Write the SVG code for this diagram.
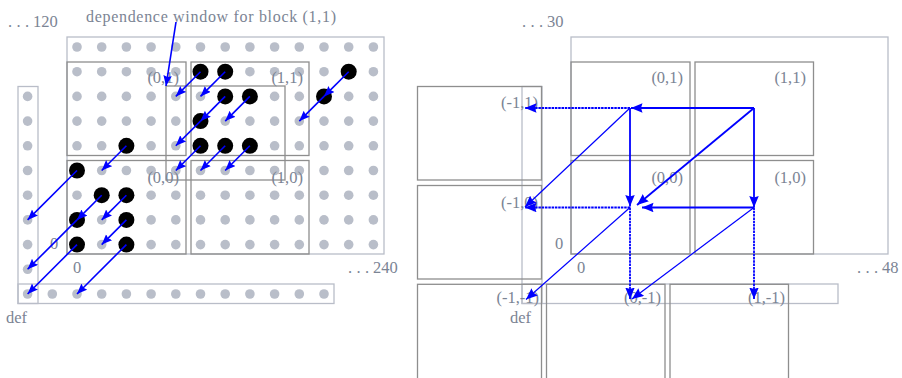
<svg xmlns="http://www.w3.org/2000/svg" width="902" height="378" viewBox="0 0 902 378">
<style>
.g{fill:#b9bec9}
.b{fill:#000}
.lr{fill:none;stroke:#b9bdc8;stroke-width:1.3}
.dr{fill:none;stroke:#8e8e8e;stroke-width:1.3}
.t{font-family:"Liberation Serif","Times New Roman",serif;font-size:16.5px;fill:#7b8494}
.a{stroke:#0000ff;stroke-width:1.6;fill:none;marker-end:url(#ah)}
.s{stroke:#0000ff;stroke-width:1.8;fill:none;marker-end:url(#ah2)}
.th{stroke:#0000ff;stroke-width:1.2;fill:none;marker-end:url(#ah2)}
.dt{stroke:#0000ff;stroke-width:1.8;fill:none;stroke-dasharray:2.5 0.8;marker-end:url(#ah2)}
</style>
<defs>
<marker id="ah" markerUnits="userSpaceOnUse" markerWidth="12" markerHeight="10" refX="10.5" refY="4.25" orient="auto"><path d="M0,0 L10.5,4.25 L0,8.5 L1.5,4.25 z" fill="#0000ff"/></marker>
<marker id="ah2" markerUnits="userSpaceOnUse" markerWidth="13" markerHeight="10" refX="11.5" refY="4.75" orient="auto"><path d="M0,0 L11.5,4.75 L0,9.5 L1.5,4.75 z" fill="#0000ff"/></marker>
</defs>

<!-- LEFT DIAGRAM -->
<g id="left-regions">
<rect class="lr" x="67" y="37" width="317" height="217"/>
<rect class="lr" x="18" y="86.5" width="20" height="217"/>
<rect class="lr" x="18" y="284" width="316" height="19.5"/>
</g>
<g id="left-blocks">
<rect id="L01" class="dr" x="67" y="62" width="119" height="93.5"/>
<rect id="L11" class="dr" x="191" y="62" width="118" height="93.5"/>
<rect id="L00" class="dr" x="67" y="160.5" width="119" height="93.5"/>
<rect id="L10" class="dr" x="191" y="160.5" width="118" height="93.5"/>
<rect id="Lwin" class="dr" x="166" y="86" width="119" height="94"/>
</g>
<g id="left-dots">
<g class="g">
<circle cx="77" cy="47" r="4.8"/><circle cx="101.7" cy="47" r="4.8"/><circle cx="126.4" cy="47" r="4.8"/><circle cx="151.1" cy="47" r="4.8"/><circle cx="175.8" cy="47" r="4.8"/><circle cx="200.5" cy="47" r="4.8"/><circle cx="225.2" cy="47" r="4.8"/><circle cx="249.9" cy="47" r="4.8"/><circle cx="274.6" cy="47" r="4.8"/><circle cx="299.3" cy="47" r="4.8"/><circle cx="324" cy="47" r="4.8"/><circle cx="348.7" cy="47" r="4.8"/><circle cx="373.4" cy="47" r="4.8"/>
<circle cx="77" cy="71.7" r="4.8"/><circle cx="101.7" cy="71.7" r="4.8"/><circle cx="126.4" cy="71.7" r="4.8"/><circle cx="151.1" cy="71.7" r="4.8"/><circle cx="175.8" cy="71.7" r="4.8"/><circle cx="249.9" cy="71.7" r="4.8"/><circle cx="274.6" cy="71.7" r="4.8"/><circle cx="299.3" cy="71.7" r="4.8"/><circle cx="324" cy="71.7" r="4.8"/><circle cx="373.4" cy="71.7" r="4.8"/>
<circle cx="77" cy="96.4" r="4.8"/><circle cx="101.7" cy="96.4" r="4.8"/><circle cx="126.4" cy="96.4" r="4.8"/><circle cx="151.1" cy="96.4" r="4.8"/><circle cx="175.8" cy="96.4" r="4.8"/><circle cx="200.5" cy="96.4" r="4.8"/><circle cx="274.6" cy="96.4" r="4.8"/><circle cx="299.3" cy="96.4" r="4.8"/><circle cx="348.7" cy="96.4" r="4.8"/><circle cx="373.4" cy="96.4" r="4.8"/>
<circle cx="77" cy="121.1" r="4.8"/><circle cx="101.7" cy="121.1" r="4.8"/><circle cx="126.4" cy="121.1" r="4.8"/><circle cx="151.1" cy="121.1" r="4.8"/><circle cx="175.8" cy="121.1" r="4.8"/><circle cx="225.2" cy="121.1" r="4.8"/><circle cx="249.9" cy="121.1" r="4.8"/><circle cx="274.6" cy="121.1" r="4.8"/><circle cx="299.3" cy="121.1" r="4.8"/><circle cx="324" cy="121.1" r="4.8"/><circle cx="348.7" cy="121.1" r="4.8"/><circle cx="373.4" cy="121.1" r="4.8"/>
<circle cx="77" cy="145.8" r="4.8"/><circle cx="101.7" cy="145.8" r="4.8"/><circle cx="151.1" cy="145.8" r="4.8"/><circle cx="175.8" cy="145.8" r="4.8"/><circle cx="274.6" cy="145.8" r="4.8"/><circle cx="299.3" cy="145.8" r="4.8"/><circle cx="324" cy="145.8" r="4.8"/><circle cx="348.7" cy="145.8" r="4.8"/><circle cx="373.4" cy="145.8" r="4.8"/>
<circle cx="101.7" cy="170.5" r="4.8"/><circle cx="126.4" cy="170.5" r="4.8"/><circle cx="151.1" cy="170.5" r="4.8"/><circle cx="175.8" cy="170.5" r="4.8"/><circle cx="200.5" cy="170.5" r="4.8"/><circle cx="225.2" cy="170.5" r="4.8"/><circle cx="249.9" cy="170.5" r="4.8"/><circle cx="274.6" cy="170.5" r="4.8"/><circle cx="299.3" cy="170.5" r="4.8"/><circle cx="324" cy="170.5" r="4.8"/><circle cx="348.7" cy="170.5" r="4.8"/><circle cx="373.4" cy="170.5" r="4.8"/>
<circle cx="77" cy="195.2" r="4.8"/><circle cx="151.1" cy="195.2" r="4.8"/><circle cx="175.8" cy="195.2" r="4.8"/><circle cx="200.5" cy="195.2" r="4.8"/><circle cx="225.2" cy="195.2" r="4.8"/><circle cx="249.9" cy="195.2" r="4.8"/><circle cx="274.6" cy="195.2" r="4.8"/><circle cx="299.3" cy="195.2" r="4.8"/><circle cx="324" cy="195.2" r="4.8"/><circle cx="348.7" cy="195.2" r="4.8"/><circle cx="373.4" cy="195.2" r="4.8"/>
<circle cx="101.7" cy="219.9" r="4.8"/><circle cx="151.1" cy="219.9" r="4.8"/><circle cx="175.8" cy="219.9" r="4.8"/><circle cx="200.5" cy="219.9" r="4.8"/><circle cx="225.2" cy="219.9" r="4.8"/><circle cx="249.9" cy="219.9" r="4.8"/><circle cx="274.6" cy="219.9" r="4.8"/><circle cx="299.3" cy="219.9" r="4.8"/><circle cx="324" cy="219.9" r="4.8"/><circle cx="348.7" cy="219.9" r="4.8"/><circle cx="373.4" cy="219.9" r="4.8"/>
<circle cx="101.7" cy="244.6" r="4.8"/><circle cx="151.1" cy="244.6" r="4.8"/><circle cx="175.8" cy="244.6" r="4.8"/><circle cx="200.5" cy="244.6" r="4.8"/><circle cx="225.2" cy="244.6" r="4.8"/><circle cx="249.9" cy="244.6" r="4.8"/><circle cx="274.6" cy="244.6" r="4.8"/><circle cx="299.3" cy="244.6" r="4.8"/><circle cx="324" cy="244.6" r="4.8"/><circle cx="348.7" cy="244.6" r="4.8"/><circle cx="373.4" cy="244.6" r="4.8"/>
<circle cx="27.6" cy="96.4" r="4.8"/><circle cx="27.6" cy="121.1" r="4.8"/><circle cx="27.6" cy="145.8" r="4.8"/><circle cx="27.6" cy="170.5" r="4.8"/><circle cx="27.6" cy="195.2" r="4.8"/><circle cx="27.6" cy="219.9" r="4.8"/><circle cx="27.6" cy="244.6" r="4.8"/><circle cx="27.6" cy="269.3" r="4.8"/><circle cx="27.6" cy="294" r="4.8"/>
<circle cx="52.3" cy="294" r="4.8"/><circle cx="77" cy="294" r="4.8"/><circle cx="101.7" cy="294" r="4.8"/><circle cx="126.4" cy="294" r="4.8"/><circle cx="151.1" cy="294" r="4.8"/><circle cx="175.8" cy="294" r="4.8"/><circle cx="200.5" cy="294" r="4.8"/><circle cx="225.2" cy="294" r="4.8"/><circle cx="249.9" cy="294" r="4.8"/><circle cx="274.6" cy="294" r="4.8"/><circle cx="299.3" cy="294" r="4.8"/><circle cx="324" cy="294" r="4.8"/>
</g>
<g class="b">
<circle cx="200.5" cy="71.7" r="8"/><circle cx="225.2" cy="71.7" r="8"/><circle cx="348.7" cy="71.7" r="8"/>
<circle cx="225.2" cy="96.4" r="8"/><circle cx="249.9" cy="96.4" r="8"/><circle cx="324" cy="96.4" r="8"/>
<circle cx="200.5" cy="121.1" r="8"/>
<circle cx="126.4" cy="145.8" r="8"/><circle cx="200.5" cy="145.8" r="8"/><circle cx="225.2" cy="145.8" r="8"/><circle cx="249.9" cy="145.8" r="8"/>
<circle cx="77" cy="170.5" r="8"/>
<circle cx="101.7" cy="195.2" r="8"/><circle cx="126.4" cy="195.2" r="8"/>
<circle cx="77" cy="219.9" r="8"/><circle cx="126.4" cy="219.9" r="8"/>
<circle cx="77" cy="244.6" r="8"/><circle cx="126.4" cy="244.6" r="8"/>
</g>
</g>
<g id="left-labels" class="t">
<text x="86" y="22" font-size="16" textLength="250" lengthAdjust="spacing">dependence window for block (1,1)</text>
<text x="8 16.5 25 33" y="27">...120</text>
<text x="348 356.5 365 373" y="273">...240</text>
<text x="179" y="83" text-anchor="end">(0,1)</text>
<text x="303" y="83" text-anchor="end">(1,1)</text>
<text x="179" y="183" text-anchor="end">(0,0)</text>
<text x="303" y="183" text-anchor="end">(1,0)</text>
<text x="54" y="249" text-anchor="middle">0</text>
<text x="77" y="273" text-anchor="middle">0</text>
<text x="6" y="323">def</text>
</g>
<g id="left-connectors">
<line class="a" x1="176" y1="22" x2="166" y2="86"/>
<line class="a" x1="200.5" y1="71.7" x2="175.8" y2="96.4"/>
<line class="a" x1="225.2" y1="71.7" x2="200.5" y2="96.4"/>
<line class="a" x1="348.7" y1="71.7" x2="324" y2="96.4"/>
<line class="a" x1="225.2" y1="96.4" x2="200.5" y2="121.1"/>
<line class="a" x1="249.9" y1="96.4" x2="225.2" y2="121.1"/>
<line class="a" x1="324" y1="96.4" x2="299.3" y2="121.1"/>
<line class="a" x1="200.5" y1="121.1" x2="175.8" y2="145.8"/>
<line class="a" x1="126.4" y1="145.8" x2="101.7" y2="170.5"/>
<line class="a" x1="200.5" y1="145.8" x2="175.8" y2="170.5"/>
<line class="a" x1="225.2" y1="145.8" x2="200.5" y2="170.5"/>
<line class="a" x1="249.9" y1="145.8" x2="225.2" y2="170.5"/>
<line class="a" x1="77" y1="170.5" x2="27.6" y2="219.9"/>
<line class="a" x1="101.7" y1="195.2" x2="77" y2="219.9"/>
<line class="a" x1="126.4" y1="195.2" x2="101.7" y2="219.9"/>
<line class="a" x1="77" y1="219.9" x2="27.6" y2="269.3"/>
<line class="a" x1="126.4" y1="219.9" x2="101.7" y2="244.6"/>
<line class="a" x1="77" y1="244.6" x2="27.6" y2="294"/>
<line class="a" x1="126.4" y1="244.6" x2="77" y2="294"/>
</g>

<!-- RIGHT DIAGRAM -->
<g id="right-regions">
<rect class="lr" x="571" y="37" width="317" height="217"/>
<rect class="lr" x="522" y="86.5" width="20" height="217"/>
<rect class="lr" x="522" y="284" width="316" height="19.5"/>
</g>
<g id="right-blocks">
<rect id="R01" class="dr" x="571" y="62" width="119" height="93.5"/>
<rect id="R11" class="dr" x="695" y="62" width="118.5" height="93.5"/>
<rect id="R00" class="dr" x="571" y="160.5" width="119" height="93.5"/>
<rect id="R10" class="dr" x="695" y="160.5" width="118.5" height="93.5"/>
<rect id="Rm11" class="dr" x="417.5" y="86.5" width="124" height="93.5"/>
<rect id="Rm10" class="dr" x="417.5" y="185.5" width="124" height="93.5"/>
<rect id="Rm1m1" class="dr" x="417.5" y="284.3" width="124" height="100"/>
<rect id="R0m1" class="dr" x="546.5" y="284.3" width="118.5" height="100"/>
<rect id="R1m1" class="dr" x="670" y="284.3" width="118.5" height="100"/>
</g>
<g id="right-labels" class="t">
<text x="522 530.5 539 547" y="27">...30</text>
<text x="857 865.5 874 882" y="273">...48</text>
<text x="683" y="83" text-anchor="end">(0,1)</text>
<text x="806" y="83" text-anchor="end">(1,1)</text>
<text x="683" y="183" text-anchor="end">(0,0)</text>
<text x="806" y="183" text-anchor="end">(1,0)</text>
<text x="538" y="108" text-anchor="end">(-1,1)</text>
<text x="538" y="208" text-anchor="end">(-1,0)</text>
<text x="539" y="303" text-anchor="end">(-1,-1)</text>
<text x="661" y="303" text-anchor="end">(0,-1)</text>
<text x="785" y="303" text-anchor="end">(1,-1)</text>
<text x="559" y="249" text-anchor="middle">0</text>
<text x="581" y="273" text-anchor="middle">0</text>
<text x="510" y="323">def</text>
</g>
<g id="right-connectors">
<line class="s" x1="754" y1="108" x2="631" y2="108"/>
<line class="dt" x1="630" y1="108" x2="525" y2="108"/>
<line class="s" x1="754" y1="108" x2="754" y2="207.5"/>
<line class="s" x1="630" y1="108" x2="630" y2="206.5"/>
<line class="s" x1="754" y1="207.5" x2="642" y2="207.5"/>
<line class="s" x1="754" y1="108" x2="637" y2="205"/>
<line class="th" x1="630" y1="108" x2="525" y2="207"/>
<line class="dt" x1="630" y1="207.5" x2="525" y2="207.5"/>
<line class="dt" x1="630" y1="207.5" x2="630" y2="299"/>
<line class="th" x1="630" y1="207.5" x2="526" y2="299.5"/>
<line class="th" x1="754" y1="207.5" x2="632" y2="299"/>
<line class="dt" x1="754" y1="207.5" x2="754" y2="299"/>
</g>
</svg>
